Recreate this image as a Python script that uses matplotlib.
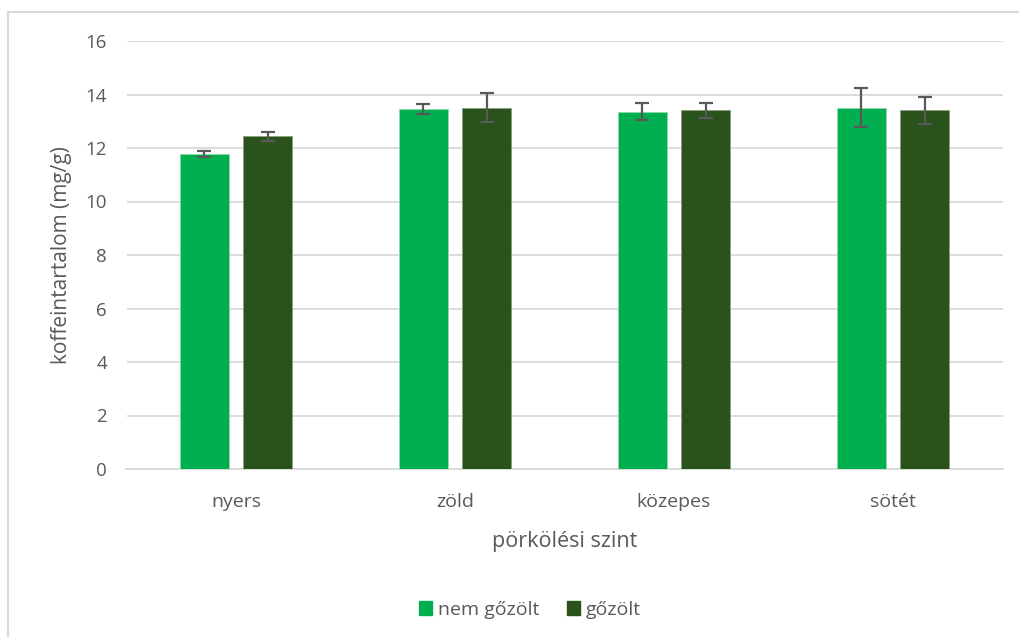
import matplotlib
matplotlib.use("Agg")
import matplotlib.pyplot as plt
from matplotlib.patches import Rectangle, Patch
import numpy as np

plt.rcParams['font.family'] = ['Open Sans', 'DejaVu Sans']

# data
categories = ['nyers', 'zöld', 'közepes', 'sötét']
series_names = ['nem gőzölt', 'gőzölt']
nem_gozolt = [11.78, 13.46, 13.36, 13.51]
nem_gozolt_err = [0.10, 0.18, 0.31, 0.73]
gozolt = [12.44, 13.51, 13.41, 13.41]
gozolt_err = [0.17, 0.53, 0.28, 0.50]

light_green = '#00B050'
dark_green = '#29531A'
text_grey = '#595959'
grid_grey = '#D9D9D9'

fig = plt.figure(figsize=(10.19, 6.37), dpi=100)

# outer chart frame (left and top edges visible)
fig.patches.append(Rectangle((8 / 1019, -0.05), 1.1, 0.05 + (637 - 12) / 637,
                             transform=fig.transFigure, fill=False,
                             edgecolor=grid_grey, linewidth=1.5))

ax = fig.add_axes([126.5 / 1019, 168 / 637, 876 / 1019, 428 / 637])

x = np.arange(len(categories))
w = 0.22
off = 0.144
err_kw = dict(ecolor=text_grey, elinewidth=1.6, capsize=5, capthick=1.6)
ax.bar(x - off, nem_gozolt, w, yerr=nem_gozolt_err, color=light_green,
       edgecolor='#8FD9A8', linewidth=0.6, error_kw=err_kw, zorder=3)
ax.bar(x + off, gozolt, w, yerr=gozolt_err, color=dark_green,
       edgecolor='#8A9E82', linewidth=0.6, error_kw=err_kw, zorder=3)

ax.set_xlim(-0.5, len(categories) - 0.5)
ax.set_ylim(0, 16)
ax.set_yticks(range(0, 17, 2))
ax.set_xticks(x)
ax.set_xticklabels(categories)
ax.yaxis.grid(True, color=grid_grey, linewidth=1.3, zorder=0)
ax.set_axisbelow(True)
for s in ['top', 'right', 'left']:
    ax.spines[s].set_visible(False)
ax.spines['bottom'].set_color(grid_grey)
ax.spines['bottom'].set_linewidth(1.3)
ax.tick_params(axis='both', length=0, labelcolor=text_grey)
ax.tick_params(axis='y', labelsize=13.5, pad=14)
ax.tick_params(axis='x', labelsize=14, pad=17)

ax.set_ylabel('koffeintartalom (mg/g)', fontsize=15, color=text_grey, labelpad=10)
ax.set_xlabel('pörkölési szint', fontsize=15.5, color=text_grey, labelpad=15)

handles = [Patch(color=light_green), Patch(color=dark_green)]
fig.legend(handles, series_names, loc='center', bbox_to_anchor=(530 / 1019, 1 - 610 / 637),
           ncol=2, frameon=False, fontsize=14, labelcolor=text_grey,
           handlelength=0.7, handleheight=0.7, handletextpad=0.3, columnspacing=1.4)

fig.savefig('out.png', dpi=100, facecolor='white')
